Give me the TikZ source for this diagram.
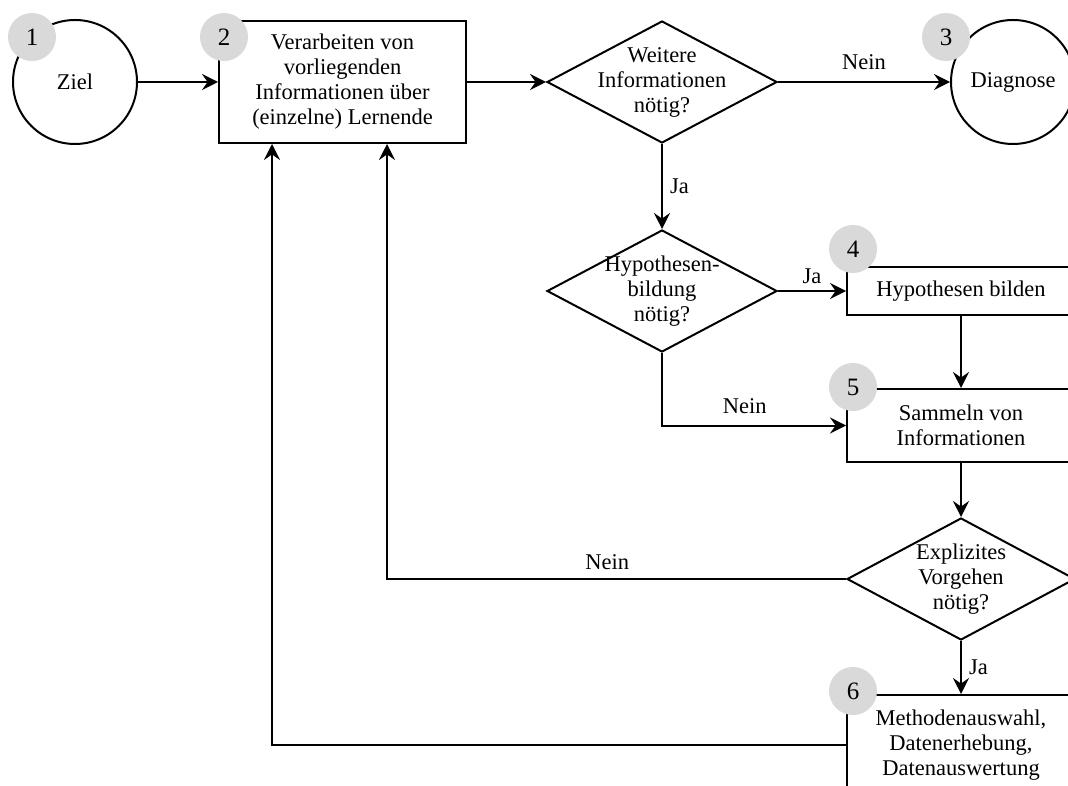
\documentclass[tikz,border=0pt]{standalone}
\usepackage{fontspec}
\setmainfont{Liberation Serif}
\usetikzlibrary{shapes.geometric,arrows.meta,calc}
\definecolor{badgegray}{RGB}{217,217,217}
\tikzset{
  every node/.style={font=\fontsize{11.25}{12.5}\selectfont},
  line/.style={line width=1pt},
  arr/.style={line, -{Stealth[length=8pt,width=8pt,inset=2.8pt]}},
  circ/.style={line, draw, circle, minimum size=62pt, inner sep=0pt},
  box/.style={line, draw, rectangle, align=center, inner sep=2pt},
  dia/.style={line, draw, diamond, minimum width=115pt, minimum height=61pt, inner sep=0pt},
  diatext/.style={align=center, inner sep=0pt},
  badge/.style={circle, fill=badgegray, minimum size=24pt, inner sep=0pt, font=\fontsize{12.5}{14}\selectfont},
  lbl/.style={inner sep=2pt}
}
\begin{document}
\begin{tikzpicture}[x=0.5pt,y=-0.5pt]
\path[use as bounding box] (0,0) rectangle (1068,785);
\clip (0,0) rectangle (1068,785);
\fill[white] (0,0) rectangle (1068,785);

% shapes
\node[circ] (c1) at (75,82) {Ziel};
\node[box, minimum width=123.5pt, minimum height=61pt] (b2) at (342.5,82) {Verarbeiten von\\vorliegenden\\Informationen über\\(einzelne) Lernende};
\node[dia] (d1) at (662,82) {};
\node[diatext] (d1t) at (d1.center) {Weitere\\Informationen\\nötig?};
\node[circ] (c3) at (1013,82) {Diagnose};
\node[dia] (d2) at (662,291) {};
\node[diatext] (d2t) at (d2.center) {Hypothesen-\\bildung\\nötig?};
\node[box, minimum width=114pt, minimum height=24pt] (b4) at (961,291) {Hypothesen bilden};
\node[box, minimum width=114pt, minimum height=36.5pt] (b5) at (961,425.5) {Sammeln von\\Informationen};
\node[dia, minimum width=114pt] (d3) at (961,579) {};
\node[diatext] (d3t) at (d3.center) {Explizites\\Vorgehen\\nötig?};
\node[box, minimum width=114pt, minimum height=50pt] (b6) at (961,745) {Methodenauswahl,\\Datenerhebung,\\Datenauswertung};

% connectors
\draw[arr] (c1) -- (b2);
\draw[arr] (b2) -- (d1);
\draw[arr] (d1) -- node[lbl, above=3.5pt] {Nein} (c3);
\draw[arr] (d1) -- node[lbl, right=1.5pt] {Ja} (d2);
\draw[arr] (d2) -- node[lbl, above=1pt] {Ja} (b4);
\draw[arr] (b4) -- (b5);
\draw[arr] (d2.south) |- node[lbl, pos=0.725, above=3.5pt] {Nein} (b5.west);
\draw[arr] (b5) -- (d3);
\draw[arr] (d3.west) -| node[lbl, pos=0.26, above=2pt] {Nein} ($(b2.south)+(44.5,0)$);
\draw[arr] (d3) -- node[lbl, right=1.5pt] {Ja} (b6);
\draw[arr] (b6.west) -| ($(b2.south)+(-70.5,0)$);

% badges
\node[badge] (n1) at (32,37) {1};
\node[badge] (n2) at (224,37) {2};
\node[badge] (n3) at (946,37) {3};
\node[badge] (n4) at (853,249) {4};
\node[badge] (n5) at (853,387) {5};
\node[badge] (n6) at (853,691) {6};
\end{tikzpicture}
\end{document}
